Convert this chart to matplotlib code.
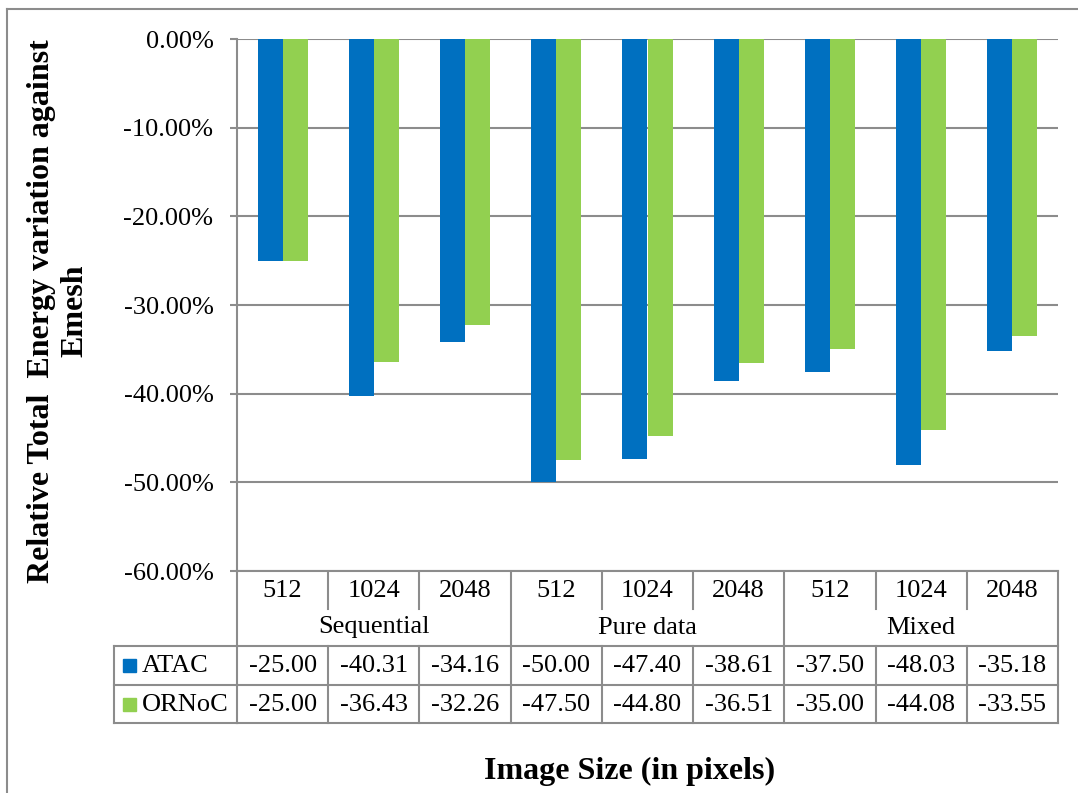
import matplotlib
matplotlib.use("Agg")
import matplotlib.pyplot as plt
from matplotlib.transforms import blended_transform_factory
from matplotlib.patches import Rectangle

plt.rcParams['font.family'] = ['Liberation Serif', 'DejaVu Serif']

# ---- data ----
groups = ["Sequential", "Pure data", "Mixed"]
sizes = ["512", "1024", "2048"]
series_names = ["ATAC", "ORNoC"]
atac = [-25.00, -40.31, -34.16, -50.00, -47.40, -38.61, -37.50, -48.03, -35.18]
ornoc = [-25.00, -36.43, -32.26, -47.50, -44.80, -36.51, -35.00, -44.08, -33.55]
colors = ["#0070C0", "#92D050"]
yticks = [0, -10, -20, -30, -40, -50, -60]

W, H = 1078, 793
fig = plt.figure(figsize=(W / 100, H / 100), dpi=100)
GRAY = "#8c8c8c"

# overlay in pixel coordinates
ov = fig.add_axes([0, 0, 1, 1], zorder=-1)
ov.set_xlim(0, W)
ov.set_ylim(H, 0)
ov.axis("off")

left, right, top, bottom = 237, 1058, 39, 571
ax = fig.add_axes([left / W, 1 - bottom / H, (right - left) / W, (bottom - top) / H])

n = len(atac)
x = list(range(n))
bw = 0.275
ax.bar([i - bw / 2 for i in x], atac, width=bw, color=colors[0], zorder=3)
ax.bar([i + bw / 2 for i in x], ornoc, width=bw, color=colors[1], zorder=3)

ax.set_xlim(-0.5, n - 0.5)
ax.set_ylim(-60, 0)
ax.set_yticks(yticks)
ax.set_yticklabels([f"{v:.2f}%" for v in yticks], fontsize=19)
ax.set_xticks([])
ax.grid(axis="y", color=GRAY, lw=1.5, zorder=0)
for s in ["top", "right"]:
    ax.spines[s].set_visible(False)
ax.spines["left"].set_color(GRAY)
ax.spines["left"].set_linewidth(1.5)
ax.spines["bottom"].set_color(GRAY)
ax.spines["bottom"].set_linewidth(1.5)
ax.tick_params(axis="y", length=5, width=1.5, color=GRAY, pad=12)

# ---- data table ----
tr = blended_transform_factory(ax.transData, ov.transData)
r_tick, r_grp, r_a, r_o, r_end = 571, 609, 646, 685, 723
lkw = dict(color=GRAY, lw=1.5, transform=tr, clip_on=False, solid_capstyle="projecting")
# vertical lines
for b in range(n + 1):
    xb = b - 0.5
    if b % 3 == 0:
        ov.plot([xb, xb], [r_tick, r_end], **lkw)
    else:
        ov.plot([xb, xb], [r_tick, r_grp], **lkw)
        ov.plot([xb, xb], [r_a, r_end], **lkw)
# legend column
xl = left - 123
ov.plot([xl, xl], [r_a, r_end], color=GRAY, lw=1.5, solid_capstyle="projecting")
ov.plot([xl, left], [r_a, r_a], color=GRAY, lw=1.5)
ov.plot([xl, left], [r_o, r_o], color=GRAY, lw=1.5)
ov.plot([xl, left], [r_end, r_end], color=GRAY, lw=1.5, solid_capstyle="projecting")
for yy in (r_a, r_o, r_end):
    ov.plot([-0.5, n - 0.5], [yy, yy], **lkw)

fs = 19
for i in range(n):
    ov.text(i, (r_tick + r_grp) / 2 + 1, sizes[i % 3], transform=tr, ha="center", va="center", fontsize=fs)
    ov.text(i, (r_a + r_o) / 2 + 1, f"{atac[i]:.2f}", transform=tr, ha="center", va="center", fontsize=fs)
    ov.text(i, (r_o + r_end) / 2 + 1, f"{ornoc[i]:.2f}", transform=tr, ha="center", va="center", fontsize=fs)
for g, name in enumerate(groups):
    ov.text(g * 3 + 1, (r_grp + r_a) / 2, name, transform=tr, ha="center", va="center", fontsize=fs)

for k, (name, c, (ya, yb)) in enumerate(zip(series_names, colors, [(r_a, r_o), (r_o, r_end)])):
    yc = (ya + yb) / 2
    ov.add_patch(Rectangle((xl + 9, yc - 6.5), 13, 13, color=c))
    ov.text(xl + 28, yc + 1, name, ha="left", va="center", fontsize=fs)

# ---- outer border ----
ov.plot([7, 7], [9, H], color=GRAY, lw=1.5)
ov.plot([7, W], [9, 9], color=GRAY, lw=1.5)

# ---- axis titles ----
fig.text(58 / W, 1 - 311 / H, "Relative Total  Energy variation against\nEmesh",
         rotation=90, ha="center", va="center", multialignment="center",
         fontsize=23, fontweight="bold", linespacing=1.2)
fig.text(630 / W, 1 - 771 / H, "Image Size (in pixels)", ha="center", va="center",
         fontsize=23, fontweight="bold")

fig.savefig("out.png", dpi=100)
